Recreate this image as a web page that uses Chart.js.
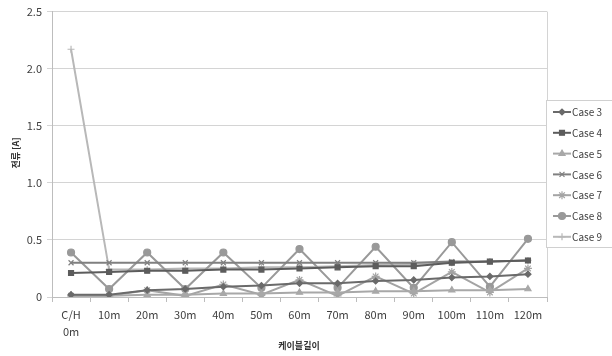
<!DOCTYPE html>
<html>
<head>
<meta charset="utf-8">
<script src="https://cdn.jsdelivr.net/npm/chart.js@4/dist/chart.umd.min.js"></script>
<style>
  html, body { margin: 0; padding: 0; background: #fff; }
  #wrap { width: 612px; height: 356px; position: relative; }
</style>
</head>
<body>
<div id="wrap"><canvas id="c" width="612" height="356"></canvas></div>
<script>
// Cable length categories (first label spans two lines)
const categories = [["C/H", "0m"], "10m", "20m", "30m", "40m", "50m", "60m", "70m", "80m", "90m", "100m", "110m", "120m"];

// Current [A] per case
const case3 = [0.02, 0.02, 0.06, 0.07, 0.09, 0.10, 0.12, 0.12, 0.14, 0.15, 0.17, 0.18, 0.20];
const case4 = [0.21, 0.22, 0.23, 0.23, 0.24, 0.24, 0.25, 0.26, 0.27, 0.27, 0.30, 0.31, 0.32];
const case5 = [0.01, 0.01, 0.02, 0.02, 0.03, 0.03, 0.04, 0.04, 0.05, 0.05, 0.06, 0.06, 0.07];
const case6 = [0.30, 0.30, 0.30, 0.30, 0.30, 0.30, 0.30, 0.30, 0.30, 0.30, 0.31, 0.31, 0.32];
const case7 = [0.01, 0.01, 0.06, 0.01, 0.11, 0.02, 0.15, 0.01, 0.18, 0.03, 0.22, 0.04, 0.25];
const case8 = [0.39, 0.07, 0.39, 0.07, 0.39, 0.08, 0.42, 0.08, 0.44, 0.08, 0.48, 0.09, 0.51];
const case9 = [2.17, 0.24, 0.24, 0.25, 0.25, 0.26, 0.26, 0.27, 0.28, 0.29, 0.30, 0.31, 0.32];

const yTicks = { min: 0, max: 2.5, step: 0.5 };

const seriesNames = ["Case 3", "Case 4", "Case 5", "Case 6", "Case 7", "Case 8", "Case 9"];
const seriesValues = [case3, case4, case5, case6, case7, case8, case9];
const seriesStyle = [
  { color: "#6a6a6a", point: "rectRot", r: 3 },
  { color: "#5c5c5c", point: "rect", r: 3.5 },
  { color: "#a8a8a8", point: "triangle", r: 3.5 },
  { color: "#808080", point: "crossRot", r: 3.5 },
  { color: "#a4a4a4", point: "star", r: 4 },
  { color: "#999999", point: "circle", r: 3.5 },
  { color: "#b8b8b8", point: "cross", r: 3.5 }
];

const datasets = seriesNames.map((name, i) => ({
  label: name,
  data: seriesValues[i],
  borderColor: seriesStyle[i].color,
  backgroundColor: seriesStyle[i].color,
  pointStyle: seriesStyle[i].point,
  pointRadius: seriesStyle[i].r,
  pointBorderWidth: 1.2,
  borderWidth: 2,
  tension: 0
}));

const FONT = "'Noto Sans CJK KR', 'DejaVu Sans', sans-serif";

// Axis titles, right plot edge and a boxed legend on the right
const extras = {
  id: "extras",
  afterDraw(chart) {
    const ctx = chart.ctx;
    const area = chart.chartArea;

    ctx.save();
    ctx.strokeStyle = "#d4d4d4";
    ctx.lineWidth = 1;
    ctx.beginPath();
    ctx.moveTo(Math.round(area.right) + 0.5, area.top);
    ctx.lineTo(Math.round(area.right) + 0.5, area.bottom);
    ctx.stroke();

    ctx.fillStyle = "#333";
    ctx.font = "bold 9px " + FONT;
    ctx.textAlign = "center";
    ctx.textBaseline = "middle";
    ctx.fillText("케이블길이", 299, 346);
    ctx.translate(16, 153);
    ctx.rotate(-Math.PI / 2);
    ctx.fillText("전류 [A]", 0, 0);
    ctx.restore();

    ctx.save();
    const bx = 546.5, by = 100.5, bw = 70, bh = 147;
    ctx.fillStyle = "#fff";
    ctx.fillRect(bx, by, bw, bh);
    ctx.strokeStyle = "#d0d0d0";
    ctx.lineWidth = 1;
    ctx.strokeRect(bx, by, bw, bh);
    chart.data.datasets.forEach((ds, i) => {
      const y = 112 + i * 20.8;
      ctx.strokeStyle = ds.borderColor;
      ctx.fillStyle = ds.borderColor;
      ctx.lineWidth = 2;
      ctx.beginPath();
      ctx.moveTo(553, y);
      ctx.lineTo(571, y);
      ctx.stroke();
      ctx.lineWidth = 1.2;
      Chart.helpers.drawPoint(ctx, {
        pointStyle: ds.pointStyle,
        radius: ds.pointRadius,
        borderWidth: 1.2,
        rotation: 0
      }, 562, y);
      ctx.fillStyle = "#404040";
      ctx.font = "10px " + FONT;
      ctx.textAlign = "left";
      ctx.textBaseline = "middle";
      ctx.fillText(ds.label, 572, y + 0.5);
    });
    ctx.restore();
  }
};

new Chart(document.getElementById("c"), {
  type: "line",
  data: { labels: categories, datasets },
  options: {
    responsive: false,
    animation: false,
    layout: { padding: { top: 7, right: 65, left: 0, bottom: 0 } },
    plugins: {
      legend: { display: false },
      tooltip: { enabled: false }
    },
    scales: {
      x: {
        offset: true,
        grid: {
          offset: true,
          drawOnChartArea: false,
          drawTicks: true,
          tickLength: 5,
          color: "#bdbdbd"
        },
        border: { color: "#bdbdbd" },
        ticks: {
          color: "#404040",
          font: { size: 11, family: FONT, lineHeight: 1.55 },
          maxRotation: 0,
          autoSkip: false,
          padding: 4
        },
        afterFit(s) { s.height = 59; }
      },
      y: {
        min: yTicks.min,
        max: yTicks.max,
        ticks: {
          stepSize: yTicks.step,
          color: "#404040",
          font: { size: 11, family: FONT },
          padding: 5
        },
        grid: {
          color: "#d4d4d4",
          tickLength: 5,
          drawTicks: true
        },
        border: { color: "#bdbdbd" },
        afterFit(s) { s.width = 52; }
      }
    }
  },
  plugins: [extras]
});
</script>
</body>
</html>
